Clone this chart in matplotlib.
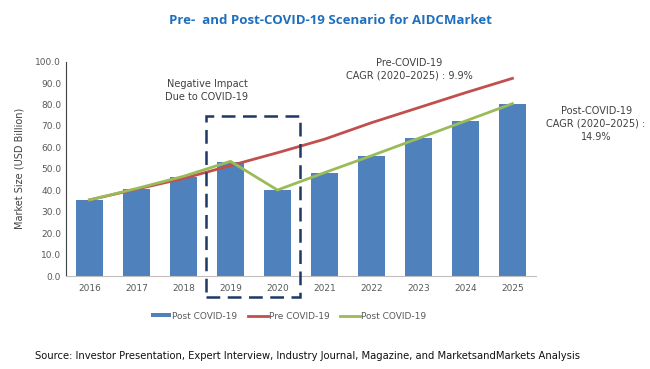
import matplotlib.pyplot as plt
from matplotlib.patches import Rectangle
from matplotlib.ticker import FormatStrFormatter

# datos
years = ["2016", "2017", "2018", "2019", "2020", "2021", "2022", "2023", "2024", "2025"]
post_bars = [35.5, 40.6, 46.3, 53.3, 40.1, 48.2, 56.1, 64.2, 72.3, 80.4]
pre_line = [35.5, 40.5, 45.5, 51.5, 57.5, 63.8, 71.5, 78.5, 85.5, 92.2]
post_line = [35.5, 40.8, 46.5, 53.5, 40.1, 48.2, 56.1, 64.2, 72.3, 80.4]

fig = plt.figure(figsize=(6.5, 3.69), dpi=100)
ax = fig.add_axes([0.1015, 0.252, 0.723, 0.581])

x = list(range(len(years)))
barras = ax.bar(x, post_bars, width=0.57, color="#4f81bd", label="Post COVID-19", zorder=2)
l_pre, = ax.plot(x, pre_line, color="#c0504d", lw=2, label="Pre COVID-19", zorder=3)
l_post, = ax.plot(x, post_line, color="#9bbb59", lw=2, label="Post COVID-19", zorder=4)

ax.set_xlim(-0.5, 9.5)
ax.set_ylim(0, 100)
ax.set_yticks(range(0, 101, 10))
ax.yaxis.set_major_formatter(FormatStrFormatter("%.1f"))
ax.set_xticks(x)
ax.set_xticklabels(years)
ax.tick_params(axis="both", length=0, labelsize=6.5, colors="#595959")
ax.tick_params(axis="x", pad=6)
for s in ["top", "right"]:
    ax.spines[s].set_visible(False)
ax.spines["left"].set_color("#404040")
ax.spines["bottom"].set_color("#bfbfbf")
ax.set_ylabel("Market Size (USD Billion)", fontsize=7, color="#404040", labelpad=8)

# caja del impacto negativo
box = Rectangle((2.48, -9.7), 2.0, 84.4, fill=False, ec="#1f3864", lw=1.8,
                ls=(0, (5.5, 3)), clip_on=False, zorder=5)
ax.add_patch(box)

ax.text(2.5, 86.7, "Negative Impact\nDue to COVID-19", ha="center", va="center",
        fontsize=7, color="#404040", linespacing=1.4)
ax.text(6.8, 96.5, "Pre-COVID-19\nCAGR (2020\u20132025) : 9.9%", ha="center", va="center",
        fontsize=7, color="#404040", linespacing=1.4, clip_on=False)
ax.text(10.78, 71, "Post-COVID-19\nCAGR (2020\u20132025) :\n14.9%", ha="center", va="center",
        fontsize=7, color="#404040", linespacing=1.4, clip_on=False)

leg = ax.legend([barras, l_pre, l_post], ["Post COVID-19", "Pre COVID-19", "Post COVID-19"],
                loc="center", bbox_to_anchor=(0.474, -0.19), ncol=3, frameon=False,
                fontsize=6.5, handlelength=2.2, handletextpad=0.1, columnspacing=1.2)
for t in leg.get_texts():
    t.set_color("#595959")
parche = leg.legend_handles[0]
parche.set_height(3)
parche.set_y(parche.get_y() + 1.5)

fig.text(0.508, 0.945, "Pre-  and Post-COVID-19 Scenario for AIDCMarket", ha="center",
         va="center", fontsize=9.5, fontweight="bold", color="#1f6fbf", family="Open Sans")
fig.text(0.054, 0.035, "Source: Investor Presentation, Expert Interview, Industry Journal, "
         "Magazine, and MarketsandMarkets Analysis", ha="left", va="center",
         fontsize=7.2, color="#111111")

fig.savefig("out.png", dpi=100)
